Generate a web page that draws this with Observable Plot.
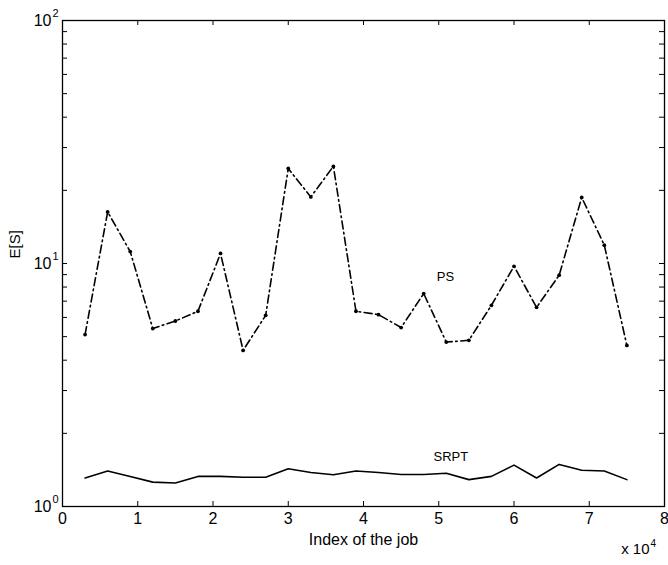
<!DOCTYPE html>
<html>
<head>
<meta charset="utf-8">
<script src="https://cdn.jsdelivr.net/npm/d3@7"></script>
<script src="https://cdn.jsdelivr.net/npm/@observablehq/plot@0.6"></script>
<style>
  html, body { margin: 0; padding: 0; background: white; }
</style>
</head>
<body>
<div id="chart"></div>
<script>
// Data
const jobIndex = [3000, 6000, 9000, 12000, 15000, 18000, 21000, 24000, 27000, 30000,
                  33000, 36000, 39000, 42000, 45000, 48000, 51000, 54000, 57000, 60000,
                  63000, 66000, 69000, 72000, 75000];
const psValues = [5.1, 16.3, 11.2, 5.4, 5.8, 6.36, 11.0, 4.39, 6.12, 24.6,
                  18.8, 25.1, 6.36, 6.16, 5.45, 7.52, 4.75, 4.83, 6.73, 9.74,
                  6.6, 8.95, 18.7, 11.9, 4.6];
const srptValues = [1.31, 1.40, 1.33, 1.26, 1.25, 1.33, 1.33, 1.32, 1.32, 1.43,
                    1.38, 1.35, 1.40, 1.38, 1.355, 1.355, 1.37, 1.29, 1.33, 1.48,
                    1.31, 1.49, 1.41, 1.40, 1.29];
const xTickValues = [0, 10000, 20000, 30000, 40000, 50000, 60000, 70000, 80000];
const yMajorTicks = [1, 10, 100];
const yMinorTicks = [2, 3, 4, 5, 6, 7, 8, 9, 10, 20, 30, 40, 50, 60, 70, 80, 90];
const seriesLabels = [
  {name: "PS", x: 50900, y: 8.8},
  {name: "SRPT", x: 51600, y: 1.6}
];
const xLabel = "Index of the job";
const yLabel = "E[S]";

const data = jobIndex.map((j, i) => ({job: j, ps: psValues[i], srpt: srptValues[i]}));

const W = 668, H = 565;
const mL = 62, mR = 4, mT = 20, mB = 59;
const plotW = W - mL - mR, plotH = H - mT - mB;
const font = "'Liberation Sans', Arial, Helvetica, sans-serif";

const chart = Plot.plot({
  width: W,
  height: H,
  marginLeft: mL,
  marginRight: mR,
  marginTop: mT,
  marginBottom: mB,
  style: {fontFamily: font, fontSize: "16px", background: "white", color: "black", overflow: "visible"},
  x: {domain: [0, 80000], axis: null},
  y: {type: "log", domain: [1, 100], axis: null},
  marks: [
    // inward ticks
    Plot.tickY(yMinorTicks, {y: d => d, insetRight: plotW - 5, stroke: "black", strokeWidth: 1}),
    Plot.tickY(yMinorTicks, {y: d => d, insetLeft: plotW - 5, stroke: "black", strokeWidth: 1}),
    Plot.tickX(xTickValues.slice(1, -1), {x: d => d, insetTop: plotH - 5, stroke: "black", strokeWidth: 1}),
    Plot.tickX(xTickValues.slice(1, -1), {x: d => d, insetBottom: plotH - 5, stroke: "black", strokeWidth: 1}),
    // series
    Plot.line(data, {x: "job", y: "srpt", stroke: "black", strokeWidth: 1.6}),
    Plot.line(data, {x: "job", y: "ps", stroke: "black", strokeWidth: 1.6, strokeDasharray: "8,3.5,1.6,3.5"}),
    Plot.dot(data, {x: "job", y: "ps", r: 1.9, fill: "black", stroke: null}),
    // frame
    Plot.frame({stroke: "black", strokeWidth: 1.3}),
    // y tick labels (10^n)
    Plot.text(yMajorTicks, {y: d => d, frameAnchor: "left", text: () => "10", textAnchor: "end", dx: -11, fontSize: 16}),
    Plot.text(yMajorTicks, {y: d => d, frameAnchor: "left", text: d => String(Math.round(Math.log10(d))), textAnchor: "start", dx: -10, dy: -7, fontSize: 11}),
    // x tick labels
    Plot.text(xTickValues, {x: d => d, frameAnchor: "bottom", text: d => String(d / 10000), dy: 17, fontSize: 16}),
    // axis labels
    Plot.text([xLabel], {frameAnchor: "bottom", text: d => d, dy: 38, fontSize: 16}),
    Plot.text(["x 10"], {frameAnchor: "bottom-right", text: d => d, textAnchor: "end", dx: -15, dy: 47, fontSize: 15}),
    Plot.text(["4"], {frameAnchor: "bottom-right", text: d => d, textAnchor: "start", dx: -14, dy: 40, fontSize: 10}),
    Plot.text([yLabel], {frameAnchor: "left", text: d => d, rotate: -90, dx: -47, dy: -5, fontSize: 15}),
    // series labels
    Plot.text(seriesLabels, {x: "x", y: "y", text: "name", fontSize: 13})
  ]
});

document.getElementById("chart").appendChild(chart);
</script>
</body>
</html>
